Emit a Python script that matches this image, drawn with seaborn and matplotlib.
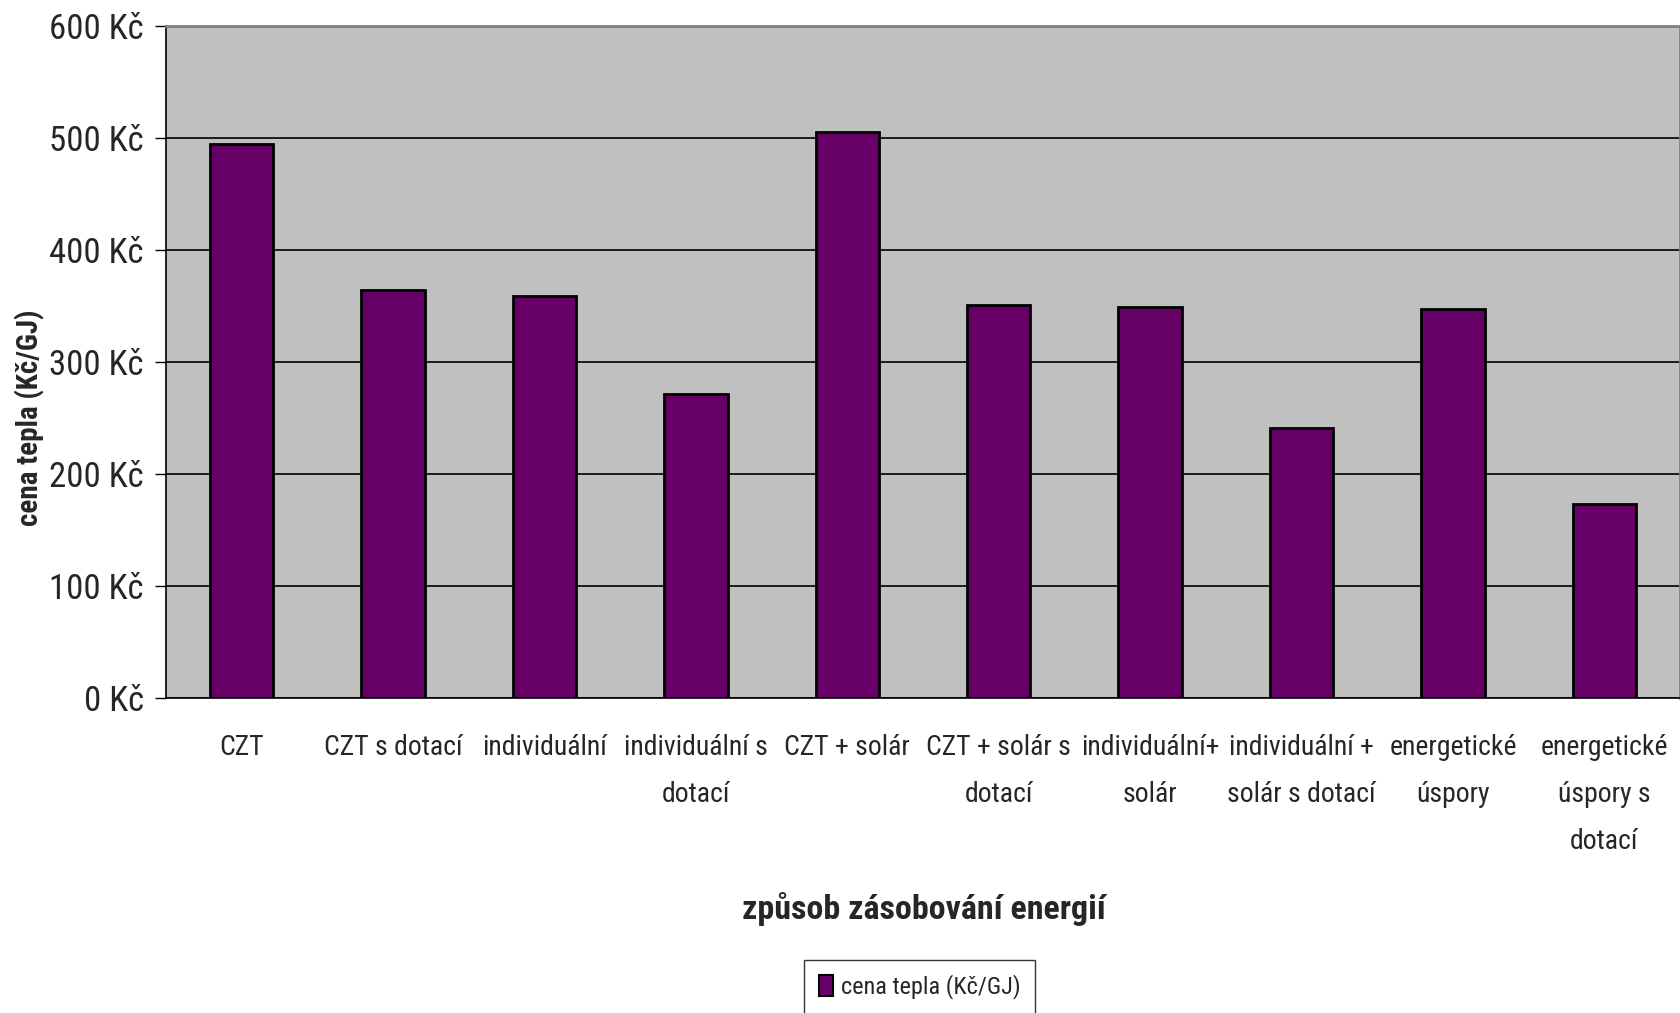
import matplotlib
matplotlib.use("Agg")
import matplotlib.pyplot as plt
import seaborn as sns
import pandas as pd
from matplotlib import font_manager
from matplotlib.patches import Patch

categories = ["CZT", "CZT s dotací", "individuální", "individuální s\ndotací",
              "CZT + solár", "CZT + solár s\ndotací", "individuální+\nsolár",
              "individuální +\nsolár s dotací", "energetické\núspory",
              "energetické\núspory s\ndotací"]
values = [495, 364, 359, 271, 505, 351, 349, 241, 347, 173]
yticks = [0, 100, 200, 300, 400, 500, 600]
ytick_labels = [f"{v} Kč" for v in yticks]
series_name = "cena tepla (Kč/GJ)"

sns.set_style("white")
weights = {}
for f in font_manager.fontManager.ttflist:
    w = f.weight if isinstance(f.weight, int) else (700 if str(f.weight) == "bold" else 400)
    weights.setdefault(f.name, set()).add(w)
candidates = ["Liberation Sans Narrow", "Arial Narrow", "Archivo Narrow", "Roboto Condensed",
              "PT Sans Narrow", "Fira Sans Condensed", "Open Sans Condensed",
              "Barlow Semi Condensed", "Sofia Sans Condensed", "Liberation Sans"]
fam = next((c for c in candidates if c in weights and 400 in weights[c] and any(w >= 600 for w in weights[c])),
           next((c for c in candidates if c in weights), "DejaVu Sans"))
plt.rcParams["font.family"] = [fam, "DejaVu Sans"]

df = pd.DataFrame({"cat": categories, "val": values})

fig = plt.figure(figsize=(16.81, 10.13), dpi=100)
ax = fig.add_axes([166/1681, 1-698/1013, 1514/1681, 672/1013])
ax.set_facecolor("#C0C0C0")

sns.barplot(data=df, x="cat", y="val", color="#660066", edgecolor="black",
            linewidth=2, width=0.42, saturation=1, ax=ax, zorder=3)

ax.set_ylim(0, 600)
ax.set_xlim(-0.5, len(categories) - 0.5)
ax.set_yticks(yticks)
ax.set_yticklabels(ytick_labels, fontsize=25)
ax.yaxis.grid(True, color="black", linewidth=1.2, zorder=1)
ax.set_axisbelow(True)

ax.set_xticks(range(len(categories)))
ax.set_xticklabels(categories, fontsize=20, linespacing=1.95, va="top")
ax.tick_params(axis="x", which="major", length=0, pad=26)
ax.set_xticks([i - 0.5 for i in range(len(categories) + 1)], minor=True)
ax.tick_params(axis="x", which="minor", length=10, width=1, color="black", direction="out")
ax.tick_params(axis="y", length=8, width=1, color="black", direction="out", pad=8, left=True)

for s in ["top", "right"]:
    ax.spines[s].set_color("#808080")
    ax.spines[s].set_linewidth(2)
for s in ["left", "bottom"]:
    ax.spines[s].set_color("black")
    ax.spines[s].set_linewidth(1.2)

ax.set_xlabel("způsob zásobování energií", fontsize=24.5, fontweight="bold")
ax.set_ylabel("cena tepla (Kč/GJ)", fontsize=21, fontweight="bold")
ax.xaxis.set_label_coords(0.5007, -0.314)
ax.xaxis.label.set_va("center")
ax.yaxis.set_label_coords(-0.0898, 0.417)
ax.yaxis.label.set_va("center")

handle = Patch(facecolor="#660066", edgecolor="black", linewidth=1.5)
leg = fig.legend([handle], [series_name], loc="center", bbox_to_anchor=(0.547, 0.0257),
                 fontsize=17.5, frameon=True, fancybox=False, handlelength=0.6,
                 handleheight=0.9, handletextpad=0.3, borderpad=0.6)
leg.get_frame().set_edgecolor("black")
leg.get_frame().set_linewidth(1)

fig.savefig("out.png", dpi=100)
